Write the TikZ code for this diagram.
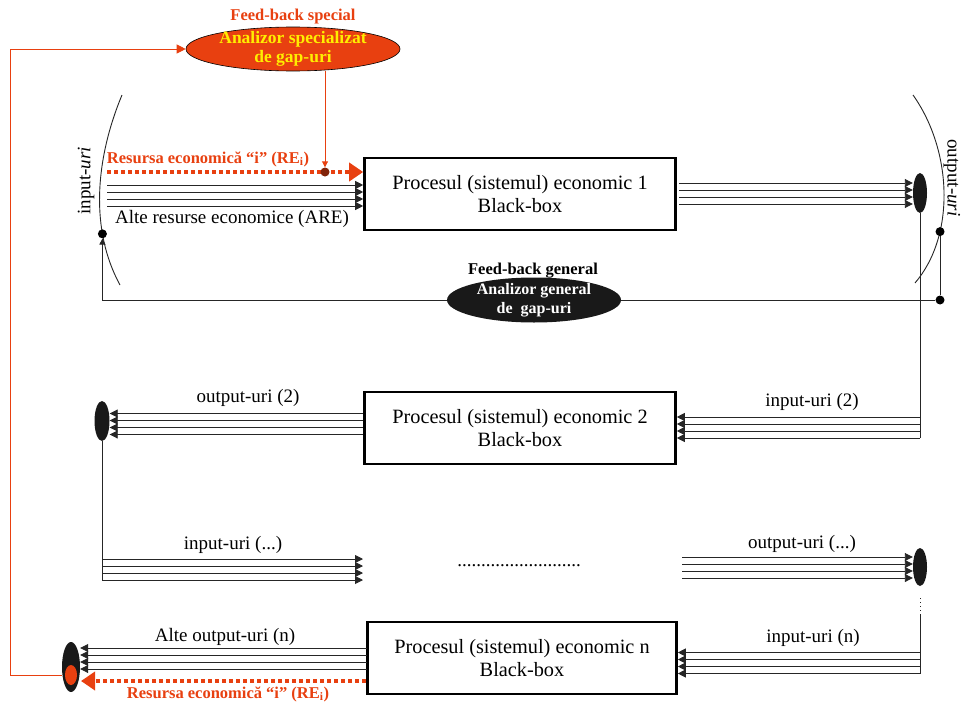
\documentclass[tikz,border=0pt]{standalone}
\usepackage{fontspec}
\setmainfont{Liberation Serif}
\usetikzlibrary{arrows.meta,shapes.geometric,calc}

\definecolor{feedorange}{RGB}{232,64,16}
\definecolor{gapyellow}{RGB}{255,238,0}

\begin{document}
\begin{tikzpicture}[x=1pt,y=-1pt,
  blackbox/.style={draw, line width=2.6pt, minimum width=311pt, minimum height=72pt,
    align=center, font=\fontsize{20.3}{23}\selectfont},
  wire/.style={black!85, line width=0.9pt},
  bus/.style={wire, -{Triangle[length=8pt,width=8pt]}},
  busname/.style={font=\fontsize{19}{21}\selectfont},
  rename/.style={text=feedorange, font=\bfseries\fontsize{16.5}{19}\selectfont},
  resource/.style={feedorange, line width=3.5pt, dash pattern=on 4pt off 3pt,
    -{Triangle[length=14pt,width=18pt]}},
  fbline/.style={feedorange, line width=0.9pt},
  hub/.style={ellipse, fill=black!90, inner sep=0pt},
  joint/.style={circle, fill=black, inner sep=0pt, minimum size=9pt}]
  \useasboundingbox (0,0) rectangle (961,704);

  % analizoare de gap-uri
  \node[ellipse, draw=black, line width=0.6pt, fill=feedorange, inner sep=0pt,
    minimum width=214pt, minimum height=44pt] (special) at (293,49) {};
  \node[align=center, text=gapyellow, font=\bfseries\fontsize{17.5}{19.5}\selectfont]
    (specialtext) at (special) {Analizor specializat\\de gap-uri};
  \node[rename, font=\bfseries\fontsize{16.5}{19}\selectfont] (specialtitle) at (293,17) {Feed-back special};

  \node[hub, minimum width=174pt, minimum height=45pt] (general) at (534,300) {};
  \node[align=center, text=white, font=\bfseries\fontsize{16}{18.5}\selectfont]
    (generaltext) at (general) {Analizor general\\de~~gap-uri};
  \node[font=\bfseries\fontsize{16.5}{19}\selectfont] (generaltitle) at (533,271) {Feed-back general};

  % procese
  \node[blackbox] (box1) at (520,194) {Procesul (sistemul) economic 1\\Black-box};
  \node[blackbox] (box2) at (520,428) {Procesul (sistemul) economic 2\\Black-box};
  \node[blackbox, minimum width=309pt] (boxn) at (522,658) {Procesul (sistemul) economic n\\Black-box};

  % colectoare
  \node[hub, minimum width=14pt, minimum height=40pt] (hub1) at (920,193) {};
  \node[hub, minimum width=15pt, minimum height=40pt] (hub2) at (102,421) {};
  \node[hub, minimum width=14pt, minimum height=38pt] (hub3) at (920,567) {};

  % input-uri / output-uri
  \draw[wire] (122,95) .. controls (95,160) and (90,230) .. (120,285) coordinate[pos=0.71] (inpoint);
  \node[busname, rotate=90] (inlabel) at (86,181) {input-\textit{uri}};
  \draw[wire] (913,95) .. controls (952,150) and (956,235) .. (915,283) coordinate[pos=0.7] (outpoint);
  \node[busname, rotate=-90] (outlabel) at (952,178) {output-\textit{uri}};
  \node[joint] (injoint) at (inpoint) {};
  \node[joint] (outjoint) at (outpoint) {};
  \node[joint] (outcorner) at (outpoint |- general.east) {};
  \draw[wire] (outjoint) -- (outcorner) -- (general.east);
  \draw[wire, -{Triangle[length=6pt,width=6pt]}] (general.west) -| (injoint.south);

  % procesul 1
  \coordinate (in1) at (107,195.5);
  \coordinate (out1) at (679,193.5);
  \foreach \dy in {-10.5,-3.5,3.5,10.5} {
    \draw[bus] ($(in1)+(0,\dy)$) -- ($(in1 -| box1.west)+(0,\dy)$);
    \draw[bus] ($(out1)+(0,\dy)$) -- ($(out1 -| hub1.west)+(0,\dy)$);
  }
  \node[busname] (are) at (232,219) {Alte resurse economice (ARE)};

  % procesul 2
  \coordinate (in2) at (920,427.5);
  \coordinate (out2) at (363,424);
  \draw[wire] (hub1.south) -- ($(in2)+(0,10.5)$);
  \foreach \dy in {-10.5,-3.5,3.5,10.5} {
    \draw[bus] ($(in2)+(0,\dy)$) -- ($(in2 -| box2.east)+(0,\dy)$);
    \draw[bus] ($(out2)+(0,\dy)$) -- ($(out2 -| hub2.east)+(0,\dy)$);
  }
  \node[busname] (out2name) at (248,398) {output-uri (2)};
  \node[busname] (in2name) at (812,402) {input-uri (2)};

  % procesele intermediare
  \coordinate (in3) at (102,569.5);
  \coordinate (in3end) at (363,569.5);
  \coordinate (out3) at (682,567.5);
  \draw[wire] (hub2.south) -- ($(in3)+(0,10.5)$);
  \foreach \dy in {-10.5,-3.5,3.5,10.5} {
    \draw[bus] ($(in3)+(0,\dy)$) -- ($(in3end)+(0,\dy)$);
    \draw[bus] ($(out3)+(0,\dy)$) -- ($(out3 -| hub3.west)+(0,\dy)$);
  }
  \node[busname] (in3name) at (233,545) {input-uri (...)};
  \node[busname] (out3name) at (802,544) {output-uri (...)};
  \node[busname] (gap) at (519,566) {..........................};

  % procesul n
  \coordinate (inn) at (920,663);
  \coordinate (outn) at (367,658.5);
  \draw[wire, dash pattern=on 1pt off 3pt] ($(hub3.south)+(0,12)$) -- ($(hub3.south)+(0,28)$);
  \draw[wire] ($(hub3.south)+(0,28)$) -- ($(inn)+(0,10.5)$);
  \node[hub, minimum width=18pt, minimum height=50pt] (hubn) at (71,667) {};
  \node[ellipse, fill=feedorange, inner sep=0pt, minimum width=12pt, minimum height=20pt] (redhub) at (71,675) {};
  \foreach \dy in {-10.5,-3.5,3.5,10.5} {
    \draw[bus] ($(inn)+(0,\dy)$) -- ($(inn -| boxn.east)+(0,\dy)$);
    \draw[bus] ($(outn)+(0,\dy)$) -- ($(outn -| hubn.east)+(0,\dy)$);
  }
  \node[busname] (innname) at (813,638) {input-uri (n)};
  \node[busname] (outnname) at (225,637) {Alte output-uri (n)};

  % resursa economica i si feed-back special
  \coordinate (resin) at (107,172);
  \coordinate (resout) at (81,681);
  \coordinate (fbcorner) at (10,49);
  \draw[resource] (resin) -- (resin -| box1.west);
  \draw[resource] (resout -| boxn.west) -- (resout);
  \node[rename] (retop) at (208,159) {Resursa economică “i” (RE\textsubscript{i})};
  \node[rename] (rebottom) at (228,694) {Resursa economică “i” (RE\textsubscript{i})};
  \node[circle, fill=feedorange!55!black, inner sep=0pt, minimum size=9pt] (tap) at (325,172) {};
  \draw[fbline, -{Triangle[length=6pt,width=6pt]}] (tap |- special.south) -- (tap.north);
  \draw[fbline, -{Triangle[length=9pt,width=9pt]}] (hubn.west |- redhub) -| (fbcorner) -- (special.west);
\end{tikzpicture}
\end{document}
